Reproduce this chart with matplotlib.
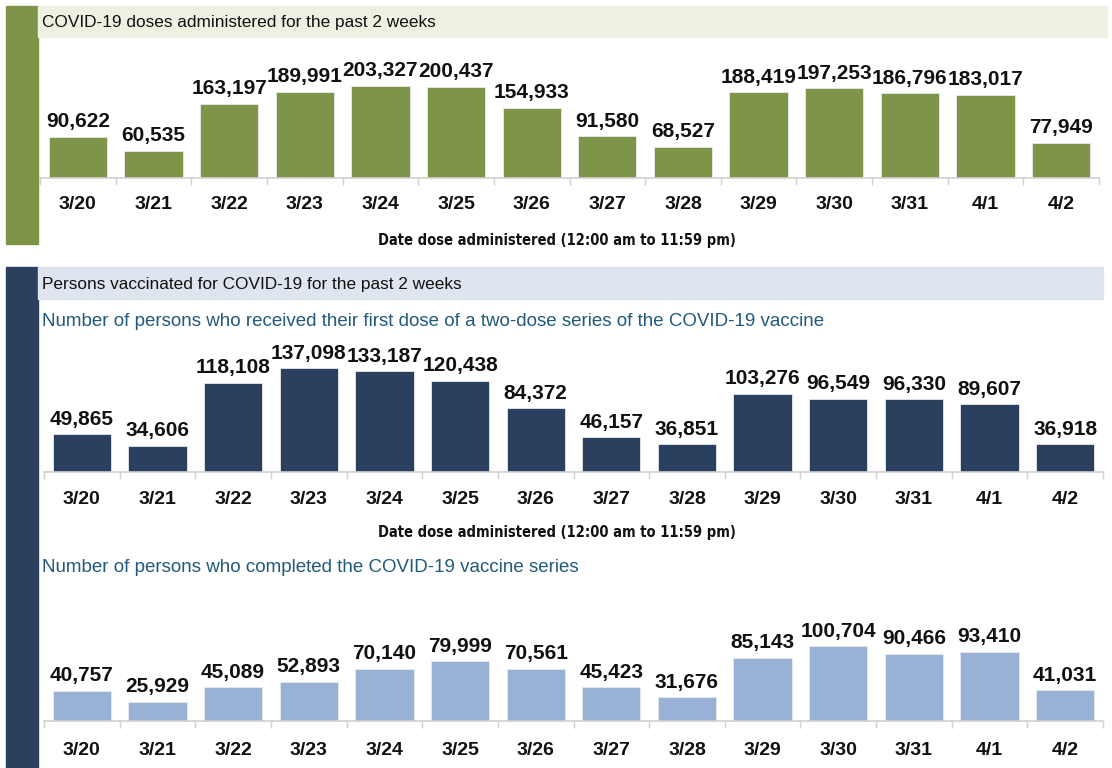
import matplotlib.pyplot as plt
from matplotlib.patches import Rectangle

dates = ['3/20', '3/21', '3/22', '3/23', '3/24', '3/25', '3/26',
         '3/27', '3/28', '3/29', '3/30', '3/31', '4/1', '4/2']
doses = [90622, 60535, 163197, 189991, 203327, 200437, 154933,
         91580, 68527, 188419, 197253, 186796, 183017, 77949]
first_dose = [49865, 34606, 118108, 137098, 133187, 120438, 84372,
              46157, 36851, 103276, 96549, 96330, 89607, 36918]
completed = [40757, 25929, 45089, 52893, 70140, 79999, 70561,
             45423, 31676, 85143, 100704, 90466, 93410, 41031]

GREEN = '#7d9449'
NAVY = '#2b3f5e'
LIGHT = '#98b1d5'
TEAL = '#215a7c'
W, H = 1112, 768

plt.rcParams['font.family'] = ['Liberation Sans', 'DejaVu Sans']
fig = plt.figure(figsize=(W / 100, H / 100), dpi=100)


def fig_rect(x0, y0, x1, y1, color):
    # rectangle given in pixels from top-left
    fig.patches.append(Rectangle((x0 / W, 1 - y1 / H), (x1 - x0) / W, (y1 - y0) / H,
                                 transform=fig.transFigure, color=color, zorder=0))


def fig_text(x, y, s, **kw):
    fig.text(x / W, 1 - y / H, s, **kw)


def bar_panel(values, color, x0, x1, base, top, bar_px, label_pad):
    ax = fig.add_axes([x0 / W, 1 - base / H, (x1 - x0) / W, (base - top) / H])
    x = range(len(values))
    bars = ax.bar(x, values, width=0.77, color=color, edgecolor='#e6e9ee', linewidth=0.6)
    ax.bar_label(bars, labels=[f'{v:,}' for v in values], padding=4,
                 fontsize=15, fontweight='bold', color='#111111')
    ax.set_xlim(-0.5, len(values) - 0.5)
    ax.set_ylim(0, max(values) * (base - top) / bar_px)
    ax.set_xticks(list(x))
    ax.set_xticklabels(dates, fontsize=14, fontweight='bold', color='#111111')
    ax.set_xticks([i - 0.5 for i in range(len(values) + 1)], minor=True)
    ax.tick_params(axis='x', which='major', length=0, pad=label_pad)
    ax.tick_params(axis='x', which='minor', length=5, color='#d0d0d0', width=1)
    ax.set_yticks([])
    for side in ['top', 'left', 'right']:
        ax.spines[side].set_visible(False)
    ax.spines['bottom'].set_color('#d0d0d0')
    ax.spines['bottom'].set_linewidth(1.2)
    ax.patch.set_alpha(0)
    return ax


# side blocks and header bands
fig_rect(6, 6, 38, 244, GREEN)
fig_rect(38, 6, 1107, 37, '#eef1e2')
fig_rect(6, 267, 38, 768, NAVY)
fig_rect(38, 267, 1103, 299, '#dfe5ee')

fig_text(42, 22, 'COVID-19 doses administered for the past 2 weeks',
         fontsize=12.4, va='center', color='#111111')
fig_text(42, 284, 'Persons vaccinated for COVID-19 for the past 2 weeks',
         fontsize=12.4, va='center', color='#111111')
fig_text(42, 321, 'Number of persons who received their first dose of a two-dose series of the COVID-19 vaccine',
         fontsize=13.5, va='center', color=TEAL)
fig_text(42, 568, 'Number of persons who completed the COVID-19 vaccine series',
         fontsize=13.5, va='center', color=TEAL)

bar_panel(doses, GREEN, 40, 1099, 178, 45, 92.3, 13)
bar_panel(first_dose, NAVY, 44, 1103, 472, 340, 103.7, 14)
bar_panel(completed, LIGHT, 44, 1103, 721, 600, 74.9, 15)

for y in (240, 533):
    fig_text(557, y, 'Date dose administered (12:00 am to 11:59 pm)',
             fontsize=10.5, fontweight='bold', fontstretch='condensed',
             ha='center', va='center', family='DejaVu Sans', color='#111111')

fig.savefig('out.png', dpi=100)
